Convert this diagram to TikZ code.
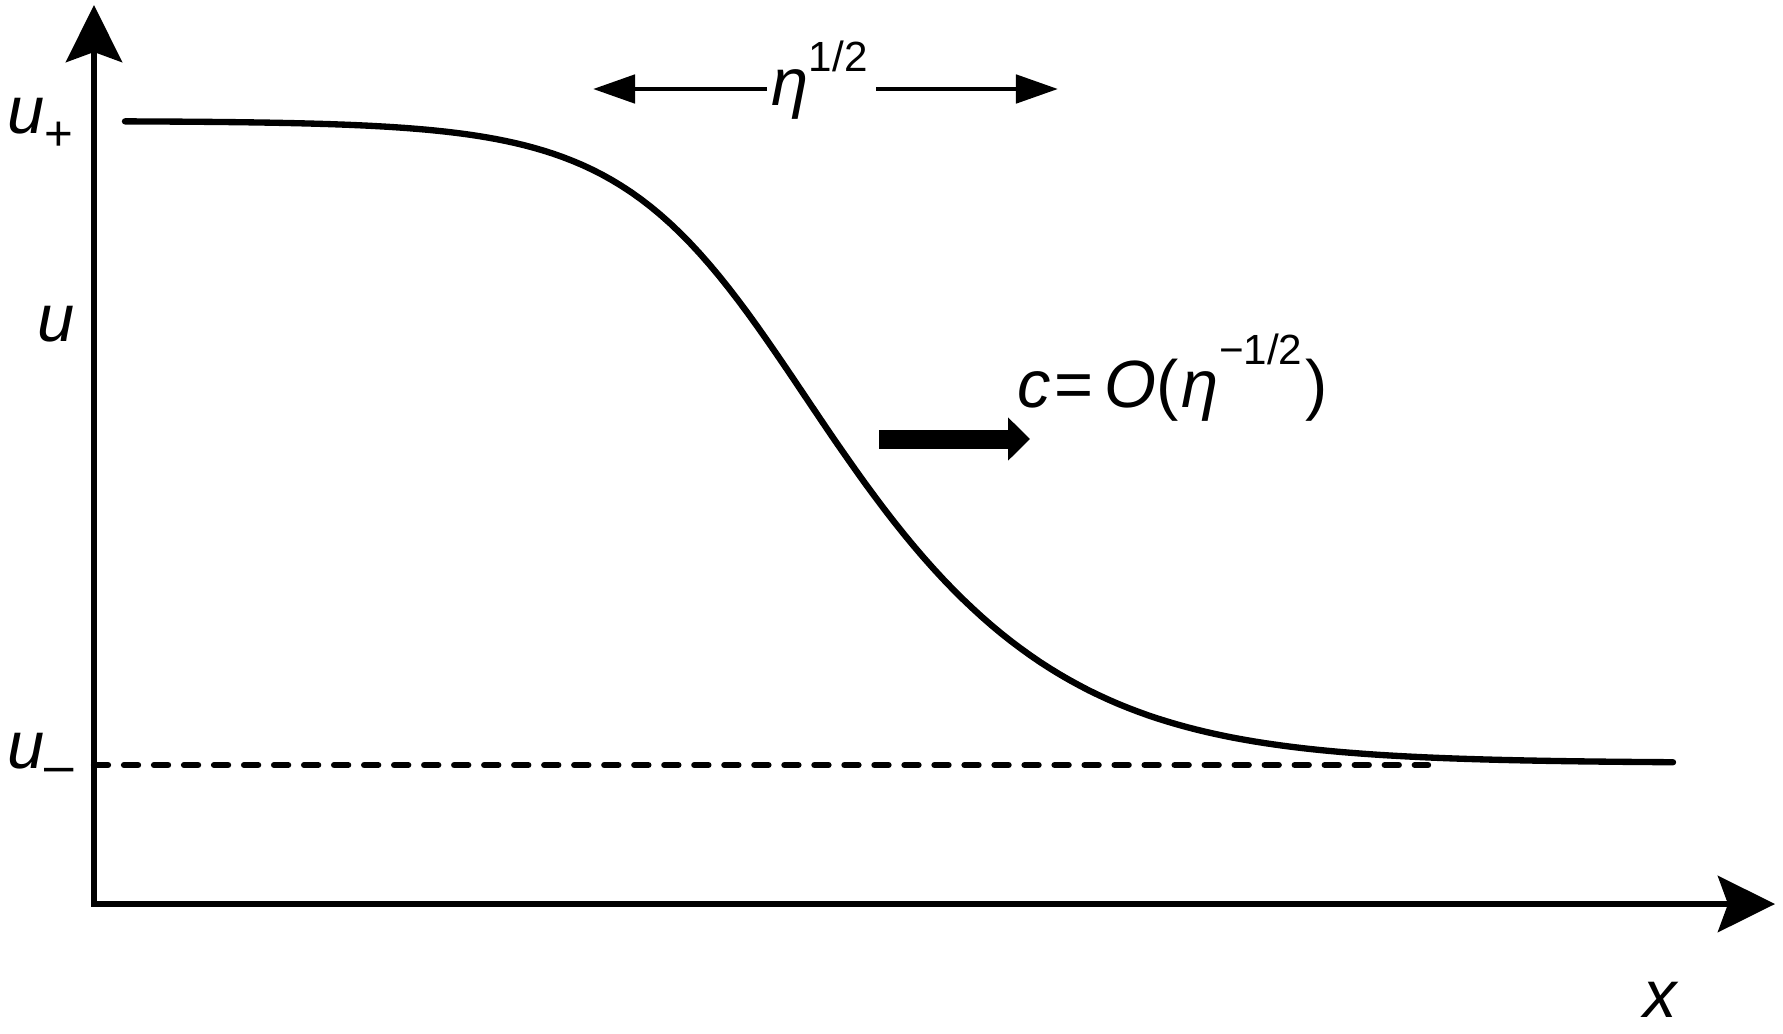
\documentclass[tikz,border=0pt]{standalone}
\usepackage{fontspec}
\setmainfont{Liberation Sans}
\usetikzlibrary{arrows.meta}

\begin{document}
\begin{tikzpicture}[
    x=0.01cm, y=-0.01cm,
    axis/.style={line width=1.8pt, {Stealth[length=0.57cm, width=0.56cm, inset=0.1cm]}-{Stealth[length=0.57cm, width=0.56cm, inset=0.1cm]}},
    wave/.style={line width=1.8pt, line cap=round, line join=round},
    level/.style={line width=1.8pt, dash pattern=on 0.14cm off 0.16cm, line cap=round},
    span/.style={line width=1.4pt, -{Triangle[length=0.42cm, width=0.28cm]}},
    speed/.style={line width=0.19cm, -{Triangle[length=0.22cm, width=0.42cm]}},
    lbl/.style={inner sep=0pt, anchor=base west, font=\fontsize{19}{23}\selectfont}
]
    \useasboundingbox (0,0) rectangle (1783,1033);

    % Axes
    \coordinate (origin) at (94,904);
    \coordinate (ytop) at (94,5);
    \coordinate (xend) at (1775,904);
    \draw[axis] (ytop) -- (origin) -- (xend);

    % Axis labels
    \node[lbl] (uplus) at (7,133) {\itshape u\raisebox{-5pt}{\upshape\fontsize{14}{16}\selectfont +}};
    \node[lbl] (ulabel) at (37,341) {\itshape u};
    \node[lbl] (uminus) at (7,768) {\itshape u\raisebox{-4.5pt}{\upshape\fontsize{15}{16}\selectfont –}};
    \node[lbl] (xlabel) at (1643,1017) {\itshape x};

    % Level u_-
    \coordinate (lowL) at (94,765);
    \coordinate (lowR) at (1428,765);
    \draw[level] (lowL) -- (lowR);

    % Front profile, steeper at the back
    \draw[wave] plot[domain=125:1673, samples=160]
        (\x, {442+321*tanh((\x-836)/(220+30*tanh((\x-836)/200)))});

    % Width of the front
    \node[lbl] (width) at (771,105) {\itshape η\raisebox{9.5pt}{\upshape\fontsize{12}{14}\selectfont 1/2}};
    \coordinate (spanL) at (593,89);
    \coordinate (spanR) at (1058,89);
    \draw[span] ([xshift=-0.04cm]width.west |- spanL) -- (spanL);
    \draw[span] ([xshift=0.08cm]width.east |- spanR) -- (spanR);

    % Propagation speed
    \node[lbl] (speedlabel) at (1017,407) {\itshape c\upshape\hspace{1pt}=\hspace{3pt}\itshape O\upshape(\hspace{1pt}\itshape η\raisebox{12pt}{\upshape\fontsize{12}{14}\selectfont −1/2}\upshape\hspace{1pt})};
    \coordinate (speedL) at (879,439);
    \coordinate (speedR) at (1030,439);
    \draw[speed] (speedL) -- (speedR);
\end{tikzpicture}
\end{document}
